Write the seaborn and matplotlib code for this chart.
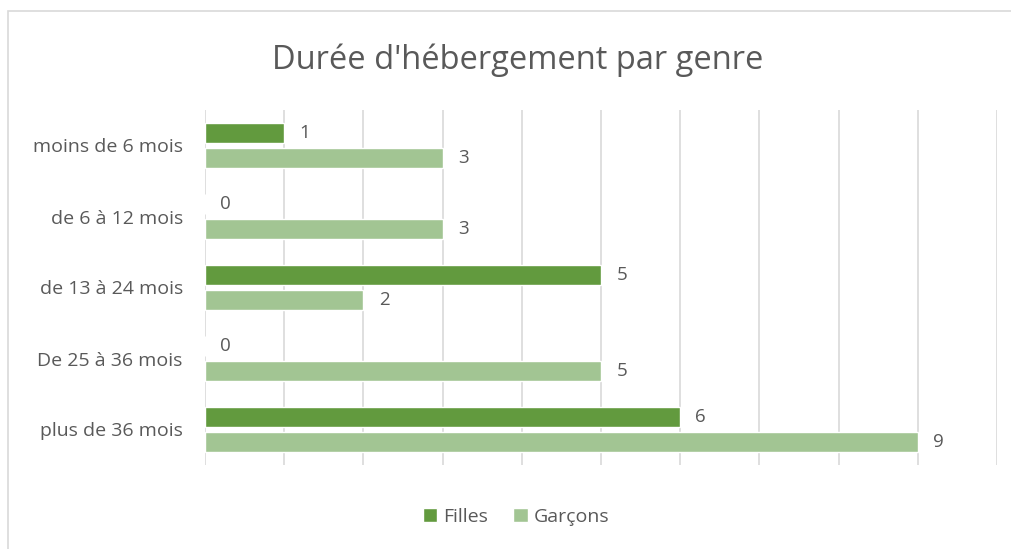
import pandas as pd
import numpy as np
import matplotlib.pyplot as plt
import seaborn as sns
from matplotlib.patches import Rectangle

# Data
categories = ["moins de 6 mois", "de 6 à 12 mois", "de 13 à 24 mois",
              "De 25 à 36 mois", "plus de 36 mois"]
filles = [1, 0, 5, 0, 6]
garcons = [3, 3, 2, 5, 9]
series_names = ["Filles", "Garçons"]

df = pd.DataFrame({
    "Durée": categories * 2,
    "Genre": [series_names[0]] * len(categories) + [series_names[1]] * len(categories),
    "Nombre": filles + garcons,
})

sns.set_theme(style="white")
plt.rcParams['font.family'] = ['Open Sans', 'DejaVu Sans']
text_color = "#595959"

fig = plt.figure(figsize=(10.12, 5.49), dpi=100)
ax = fig.add_axes([205 / 1012, 1 - 465 / 549, 792 / 1012, 355 / 549])

sns.barplot(data=df, y="Durée", x="Nombre", hue="Genre", order=categories,
            palette=["#629A3E", "#A2C593"], saturation=1, width=0.68, gap=0.17,
            orient="h", ax=ax, legend=True)

for cont in ax.containers:
    ax.bar_label(cont, padding=11, fontsize=13.5, color=text_color)

ax.set_xlim(0, 10)
ax.set_xticks(np.arange(0, 11, 1))
ax.set_xticklabels([])
ax.tick_params(axis="x", length=0)
ax.tick_params(axis="y", length=0, labelsize=14, labelcolor=text_color, pad=16)
ax.xaxis.grid(True, color="#D9D9D9", linewidth=1.2)
ax.yaxis.grid(False)
ax.set_axisbelow(True)
for s in ax.spines.values():
    s.set_visible(False)
ax.set_xlabel("")
ax.set_ylabel("")

handles, labels = ax.get_legend_handles_labels()
ax.get_legend().remove()
fig.legend(handles, labels, loc="center", bbox_to_anchor=(0.51, 1 - 517 / 549),
           ncol=2, frameon=False, fontsize=14, handlelength=0.75, handleheight=0.75,
           handletextpad=0.3, columnspacing=1.3, labelcolor=text_color)

fig.text(0.512, 1 - 60 / 549, "Durée d'hébergement par genre", ha="center",
         va="center", fontsize=23.5, color=text_color)

# Chart border
fig.patches.append(Rectangle((8 / 1012, -0.01), 1.2, 1 - 11 / 549 + 0.01,
                             transform=fig.transFigure, fill=False,
                             edgecolor="#D9D9D9", linewidth=1.2))

fig.savefig("out.png", dpi=100)
